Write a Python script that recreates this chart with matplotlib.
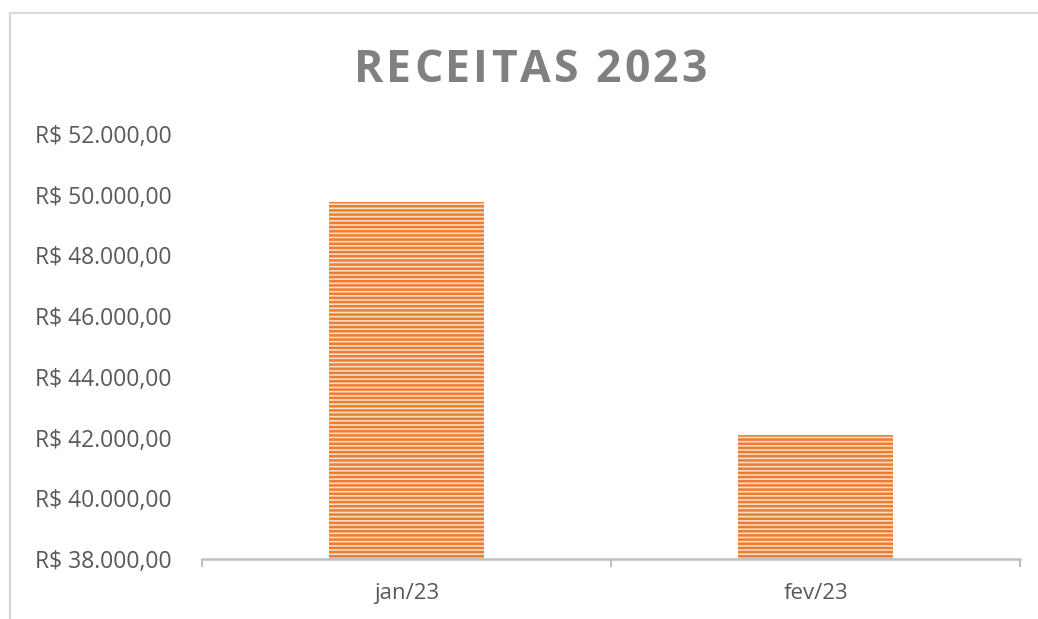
import matplotlib
matplotlib.use("Agg")
import matplotlib.pyplot as plt
from matplotlib.patches import Rectangle
from matplotlib.ticker import FuncFormatter

categories = ["jan/23", "fev/23"]
values = [49750, 42080]
yticks = [38000, 40000, 42000, 44000, 46000, 48000, 50000, 52000]
title = "RECEITAS 2023"

plt.rcParams['font.family'] = ['Open Sans', 'DejaVu Sans']
plt.rcParams['hatch.linewidth'] = 1.8
plt.rcParams['hatch.color'] = '#ED7D31'

fig = plt.figure(figsize=(10.38, 6.19), dpi=100)
ax = fig.add_axes([202/1038, 1-559/619, (1020-202)/1038, (559-134)/619])

x = list(range(len(categories)))
ax.bar(x, values, width=0.38, color='#FBDCC5', edgecolor='#ED7D31', linewidth=0,
       hatch='----')
ax.set_xlim(-0.5, len(categories) - 0.5)
ax.set_ylim(yticks[0], yticks[-1])
ax.set_yticks(yticks)

def fmt(v, pos):
    s = f"{v:,.2f}".replace(",", "X").replace(".", ",").replace("X", ".")
    return "R$ " + s
ax.yaxis.set_major_formatter(FuncFormatter(fmt))

ax.set_xticks([-0.5, 0.5, 1.5], minor=False)
ax.set_xticklabels([])
ax.set_xticks(x, minor=True)
ax.set_xticklabels(categories, minor=True)
ax.tick_params(axis='x', which='major', length=6, width=1.5, color='#BFBFBF')
ax.tick_params(axis='x', which='minor', length=0, pad=17, labelsize=16, labelcolor='#595959')
ax.tick_params(axis='y', length=0, pad=22, labelsize=16.5, labelcolor='#595959')

for s in ['top', 'right', 'left']:
    ax.spines[s].set_visible(False)
ax.spines['bottom'].set_color('#BFBFBF')
ax.spines['bottom'].set_linewidth(1.8)

# title with letter spacing
renderer = fig.canvas.get_renderer()
tracking = 3.0  # px
kw = dict(fontsize=32, fontweight='bold', color='#808080', va='center', ha='left')
widths = []
for ch in title:
    t = fig.text(0, 0, ch, **kw)
    widths.append(t.get_window_extent(renderer).width if ch != ' ' else 0)
    t.remove()
sp = fig.text(0, 0, "a a", **kw)
w2 = sp.get_window_extent(renderer).width
sp.remove()
sa = fig.text(0, 0, "aa", **kw)
space_w = w2 - sa.get_window_extent(renderer).width
sa.remove()
widths = [w if ch != ' ' else space_w for ch, w in zip(title, widths)]
total = sum(widths) + tracking * (len(title) - 1)
cx = 530
xpos = cx - total / 2
for ch, w in zip(title, widths):
    fig.text(xpos / 1038, 1 - 71/619, ch, **kw)
    xpos += w + tracking

fig.patches.append(Rectangle((10/1038, -0.1), 1.2, 1.1 - 13/619,
                             transform=fig.transFigure, fill=False,
                             edgecolor='#D9D9D9', linewidth=1.6, zorder=0))

fig.savefig("out.png", dpi=100)
